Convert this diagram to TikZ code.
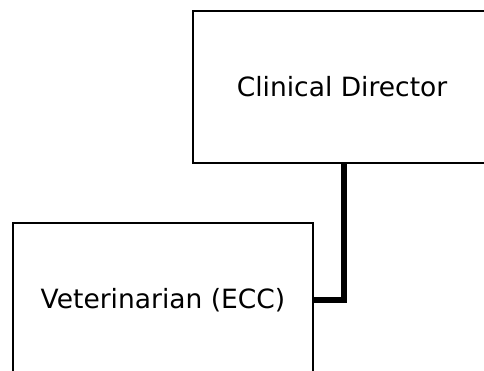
\documentclass[tikz,border=0pt]{standalone}
\usepackage{fontspec}
\setmainfont{DejaVu Sans}
\usepackage{tikz}

\begin{document}
\begin{tikzpicture}[x=1pt,y=1pt,
	rolebox/.style={draw,line width=1.6pt,fill=white,inner sep=0pt,font=\fontsize{26.5}{32}\selectfont},
	link/.style={line width=5.5pt}]
	\useasboundingbox (0,0) rectangle (484,371);
	%BOXES
	\node[rolebox,minimum width=298,minimum height=152] (director) at (342,284) {Clinical Director};
	\node[rolebox,minimum width=300,minimum height=154] (vet) at (163,71) {Veterinarian (ECC)};
	%LINK
	\draw[link] (vet.east) -| ([xshift=2pt]director.south);
\end{tikzpicture}
\end{document}
